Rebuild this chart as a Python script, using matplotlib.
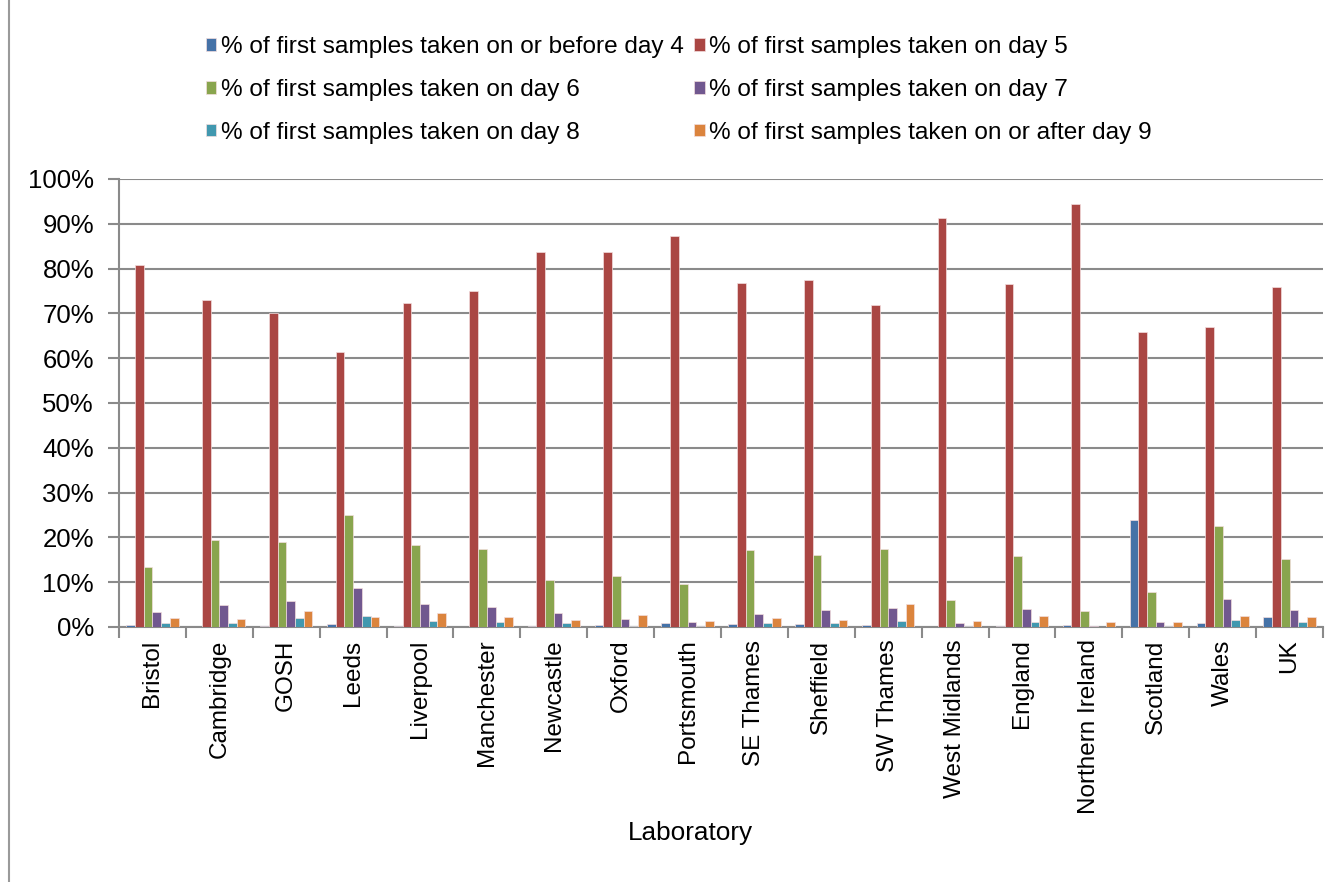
import numpy as np
import matplotlib
matplotlib.use("Agg")
import matplotlib.pyplot as plt
from matplotlib.lines import Line2D
from matplotlib.ticker import FuncFormatter

plt.rcParams['font.family'] = ['Liberation Sans', 'DejaVu Sans']

labs = ["Bristol", "Cambridge", "GOSH", "Leeds", "Liverpool", "Manchester",
        "Newcastle", "Oxford", "Portsmouth", "SE Thames", "Sheffield",
        "SW Thames", "West Midlands", "England", "Northern Ireland",
        "Scotland", "Wales", "UK"]

day4_or_before = [0.4, 0.1, 0.2, 0.7, 0.2, 0.1, 0.3, 0.5, 0.9, 0.7, 0.7, 0.5,
                  0.1, 0.3, 0.4, 23.9, 0.8, 2.2]
day5 = [80.7, 73.1, 70.1, 61.3, 72.3, 74.9, 83.8, 83.8, 87.2, 76.8, 77.5, 71.9,
        91.4, 76.6, 94.5, 65.9, 67.0, 76.0]
day6 = [13.3, 19.4, 18.9, 25.1, 18.2, 17.4, 10.6, 11.3, 9.5, 17.1, 16.1, 17.3,
        6.1, 15.8, 3.6, 7.9, 22.5, 15.1]
day7 = [3.3, 4.8, 5.7, 8.6, 5.1, 4.5, 3.1, 1.8, 1.2, 2.9, 3.9, 4.3,
        1.0, 4.0, 0.3, 1.2, 6.2, 3.8]
day8 = [0.8, 1.0, 2.0, 2.4, 1.3, 1.1, 0.8, 0.2, 0.3, 1.0, 0.8, 1.3,
        0.2, 1.2, 0.1, 0.2, 1.6, 1.1]
day9_or_after = [1.9, 1.8, 3.5, 2.2, 3.1, 2.2, 1.6, 2.7, 1.3, 2.0, 1.6, 5.1,
                 1.3, 2.5, 1.2, 1.1, 2.5, 2.3]

series_names = [
    "% of first samples taken on or before day 4",
    "% of first samples taken on day 5",
    "% of first samples taken on day 6",
    "% of first samples taken on day 7",
    "% of first samples taken on day 8",
    "% of first samples taken on or after day 9",
]
series = [day4_or_before, day5, day6, day7, day8, day9_or_after]
colors = ["#4572A7", "#AA4643", "#89A54E", "#71588F", "#4198AF", "#DB843D"]

W, H = 1342, 882
fig = plt.figure(figsize=(W / 100, H / 100), dpi=100)
ax = fig.add_axes([119 / W, 1 - 627 / H, (1323 - 119) / W, (627 - 179) / H])

n = len(labs)
x = np.arange(n)
bw = 0.13
handles = []
for i, (vals, c, name) in enumerate(zip(series, colors, series_names)):
    off = (i - 2.5) * bw
    b = ax.bar(x + off, vals, width=bw, color=c, edgecolor="#f3dede",
               linewidth=0.5, label=name, zorder=3)
    handles.append(b)

ax.set_xlim(-0.5, n - 0.5)
ax.set_ylim(0, 100)
ax.set_yticks(np.arange(0, 101, 10))
ax.yaxis.set_major_formatter(FuncFormatter(lambda v, p: f"{int(v)}%"))
ax.grid(axis="y", color="#8a8a8a", linewidth=1.5, zorder=0)
ax.set_axisbelow(True)

ax.set_xticks(x)
ax.set_xticklabels(labs, rotation=90, fontsize=17.5, va="top", ha="center")
ax.set_xticks(np.arange(-0.5, n, 1), minor=True)
ax.tick_params(axis="x", which="major", length=0, pad=9)
ax.tick_params(axis="x", which="minor", length=8, width=1.5, color="#8a8a8a")
ax.tick_params(axis="y", length=8, width=1.5, color="#8a8a8a",
               labelsize=18.5, pad=10)

for s in ["top", "right"]:
    ax.spines[s].set_visible(False)
for s in ["left", "bottom"]:
    ax.spines[s].set_color("#8a8a8a")
    ax.spines[s].set_linewidth(1.5)

fig.text(690 / W, 1 - 833 / H, "Laboratory", fontsize=18.8,
         ha="center", va="center")

order = [0, 2, 4, 1, 3, 5]
fig.legend([handles[k] for k in order], [series_names[k] for k in order],
           ncol=2, loc="upper left", bbox_to_anchor=(206 / W, 1 - 36.5 / H),
           frameon=False, fontsize=17.6, handlelength=0.42, handleheight=0.42,
           handletextpad=0.2, columnspacing=0.42, labelspacing=0.84,
           borderpad=0, borderaxespad=0)

fig.add_artist(Line2D([9 / W, 9 / W], [0, 1], color="#9a9a9a",
                      linewidth=1.5, transform=fig.transFigure))

fig.savefig("out.png", dpi=100, facecolor="white")
